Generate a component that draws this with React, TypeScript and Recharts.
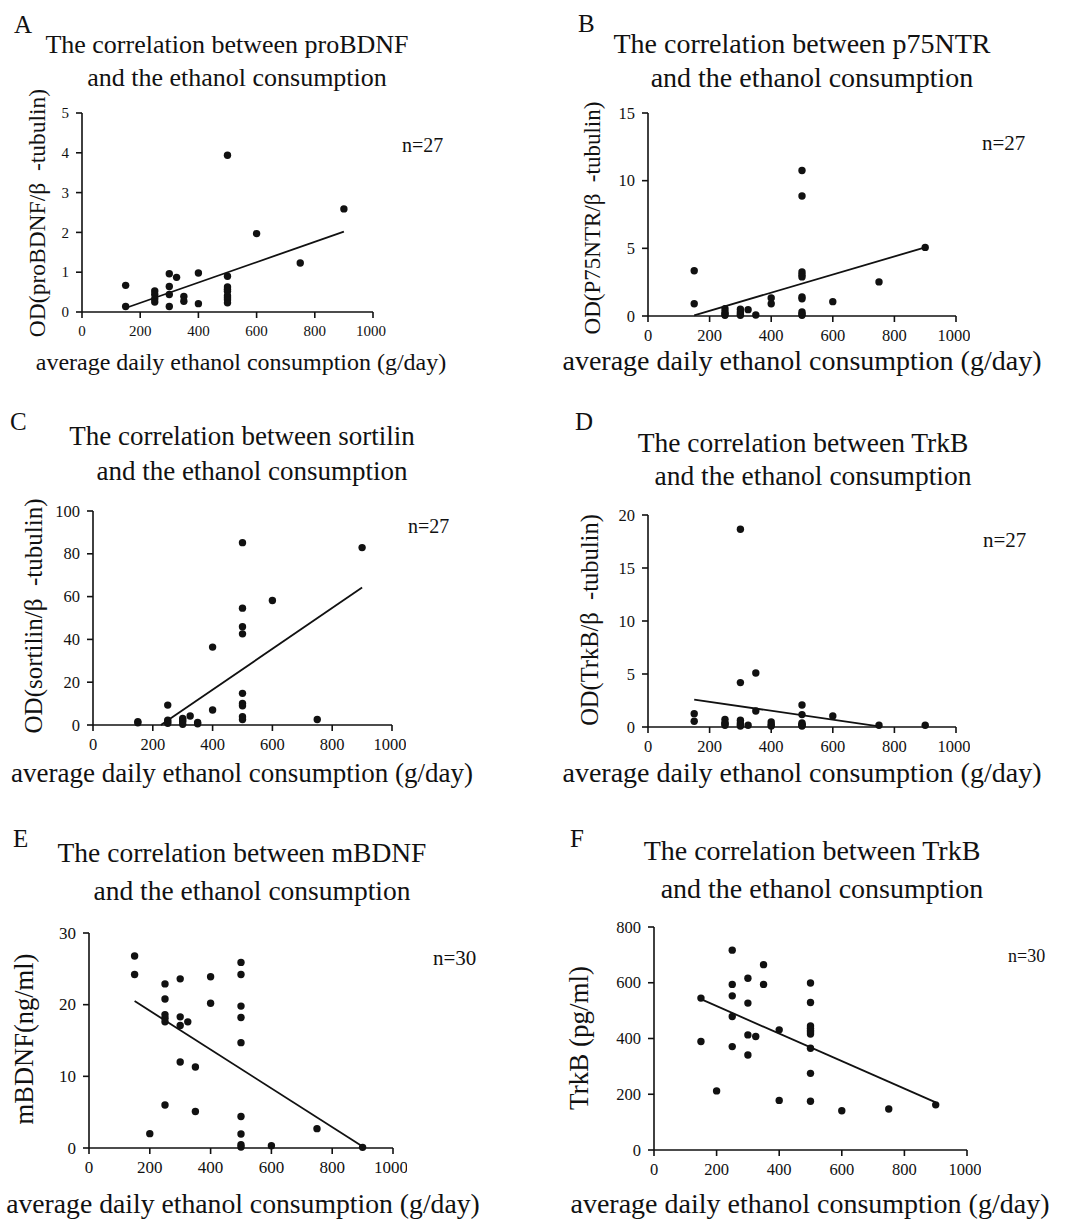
import { ScatterChart, Scatter, XAxis, YAxis } from 'recharts';

const FONT = '"Liberation Serif", "Times New Roman", serif';
const INK = '#111';

const xTicks = [0, 200, 400, 600, 800, 1000];
const xLabel = 'average daily ethanol consumption (g/day)';

// A: proBDNF
const proBDNF = [
  { x: 150, y: 0.67 }, { x: 150, y: 0.14 },
  { x: 250, y: 0.53 }, { x: 250, y: 0.44 }, { x: 250, y: 0.33 }, { x: 250, y: 0.25 },
  { x: 300, y: 0.96 }, { x: 300, y: 0.64 }, { x: 300, y: 0.44 }, { x: 300, y: 0.14 },
  { x: 325, y: 0.87 },
  { x: 350, y: 0.39 }, { x: 350, y: 0.27 },
  { x: 400, y: 0.98 }, { x: 400, y: 0.21 },
  { x: 500, y: 3.94 }, { x: 500, y: 0.9 }, { x: 500, y: 0.63 }, { x: 500, y: 0.57 },
  { x: 500, y: 0.52 }, { x: 500, y: 0.41 }, { x: 500, y: 0.36 }, { x: 500, y: 0.31 }, { x: 500, y: 0.23 },
  { x: 600, y: 1.97 }, { x: 750, y: 1.23 }, { x: 900, y: 2.59 },
];
const proBDNFFit = [{ x: 150, y: 0.1 }, { x: 900, y: 2.02 }];

// B: p75NTR
const p75NTR = [
  { x: 150, y: 3.34 }, { x: 150, y: 0.91 },
  { x: 250, y: 0.54 }, { x: 250, y: 0.3 }, { x: 250, y: 0.15 }, { x: 250, y: 0.05 },
  { x: 300, y: 0.5 }, { x: 300, y: 0.3 }, { x: 300, y: 0.15 }, { x: 300, y: 0.05 },
  { x: 325, y: 0.47 }, { x: 350, y: 0.07 },
  { x: 400, y: 1.33 }, { x: 400, y: 0.91 },
  { x: 500, y: 10.75 }, { x: 500, y: 8.87 }, { x: 500, y: 3.26 }, { x: 500, y: 3.05 }, { x: 500, y: 2.89 },
  { x: 500, y: 1.4 }, { x: 500, y: 1.28 }, { x: 500, y: 0.3 }, { x: 500, y: 0.15 }, { x: 500, y: 0.05 },
  { x: 600, y: 1.06 }, { x: 750, y: 2.52 }, { x: 900, y: 5.07 },
];
const p75NTRFit = [{ x: 150, y: 0.05 }, { x: 900, y: 5.07 }];

// C: sortilin
const sortilin = [
  { x: 150, y: 1.6 }, { x: 150, y: 1.0 },
  { x: 250, y: 9.3 }, { x: 250, y: 2.3 }, { x: 250, y: 1.5 }, { x: 250, y: 0.8 },
  { x: 300, y: 3.1 }, { x: 300, y: 2.3 }, { x: 300, y: 1.6 }, { x: 300, y: 0.3 },
  { x: 325, y: 4.2 }, { x: 350, y: 1.2 }, { x: 350, y: 0.6 },
  { x: 400, y: 36.4 }, { x: 400, y: 7.0 },
  { x: 500, y: 85.2 }, { x: 500, y: 54.6 }, { x: 500, y: 45.9 }, { x: 500, y: 42.6 }, { x: 500, y: 14.8 },
  { x: 500, y: 10.1 }, { x: 500, y: 9.0 }, { x: 500, y: 3.9 }, { x: 500, y: 2.6 },
  { x: 600, y: 58.2 }, { x: 750, y: 2.6 }, { x: 900, y: 82.9 },
];
const sortilinFit = [{ x: 227, y: 0 }, { x: 900, y: 64.2 }];

// D: TrkB (OD)
const trkbOD = [
  { x: 150, y: 1.26 }, { x: 150, y: 0.54 },
  { x: 250, y: 0.72 }, { x: 250, y: 0.41 }, { x: 250, y: 0.3 }, { x: 250, y: 0.16 },
  { x: 300, y: 18.65 }, { x: 300, y: 4.19 }, { x: 300, y: 0.63 }, { x: 300, y: 0.38 }, { x: 300, y: 0.22 }, { x: 300, y: 0.1 },
  { x: 325, y: 0.16 }, { x: 350, y: 5.1 }, { x: 350, y: 1.51 },
  { x: 400, y: 0.47 }, { x: 400, y: 0.22 }, { x: 400, y: 0.1 },
  { x: 500, y: 2.08 }, { x: 500, y: 1.17 }, { x: 500, y: 0.38 }, { x: 500, y: 0.25 }, { x: 500, y: 0.16 }, { x: 500, y: 0.1 },
  { x: 600, y: 1.04 }, { x: 750, y: 0.16 }, { x: 900, y: 0.16 },
];
const trkbODFit = [{ x: 150, y: 2.58 }, { x: 750, y: 0.06 }];

// E: mBDNF (ng/ml)
const mBDNF = [
  { x: 150, y: 26.8 }, { x: 150, y: 24.2 }, { x: 200, y: 2.0 },
  { x: 250, y: 22.9 }, { x: 250, y: 20.8 }, { x: 250, y: 18.6 }, { x: 250, y: 18.1 }, { x: 250, y: 17.6 }, { x: 250, y: 6.0 },
  { x: 300, y: 23.6 }, { x: 300, y: 18.3 }, { x: 300, y: 17.1 }, { x: 300, y: 12.0 },
  { x: 325, y: 17.6 }, { x: 350, y: 11.3 }, { x: 350, y: 5.1 },
  { x: 400, y: 23.9 }, { x: 400, y: 20.2 },
  { x: 500, y: 25.9 }, { x: 500, y: 24.2 }, { x: 500, y: 19.8 }, { x: 500, y: 18.2 }, { x: 500, y: 14.7 },
  { x: 500, y: 4.4 }, { x: 500, y: 1.95 }, { x: 500, y: 0.46 }, { x: 500, y: 0.14 },
  { x: 600, y: 0.32 }, { x: 750, y: 2.7 }, { x: 900, y: 0.09 },
];
const mBDNFFit = [{ x: 150, y: 20.5 }, { x: 900, y: 0.2 }];

// F: TrkB (pg/ml)
const trkbPg = [
  { x: 150, y: 545 }, { x: 150, y: 389 }, { x: 200, y: 212 },
  { x: 250, y: 717 }, { x: 250, y: 594 }, { x: 250, y: 553 }, { x: 250, y: 479 }, { x: 250, y: 371 },
  { x: 300, y: 616 }, { x: 300, y: 527 }, { x: 300, y: 413 }, { x: 300, y: 341 },
  { x: 325, y: 407 }, { x: 350, y: 665 }, { x: 350, y: 594 },
  { x: 400, y: 431 }, { x: 400, y: 178 },
  { x: 500, y: 599 }, { x: 500, y: 529 }, { x: 500, y: 445 }, { x: 500, y: 437 }, { x: 500, y: 429 },
  { x: 500, y: 423 }, { x: 500, y: 416 }, { x: 500, y: 365 }, { x: 500, y: 275 }, { x: 500, y: 175 },
  { x: 600, y: 141 }, { x: 750, y: 147 }, { x: 900, y: 162 },
];
const trkbPgFit = [{ x: 150, y: 541 }, { x: 900, y: 171 }];

type Pt = { x: number; y: number };

type Panel = {
  letter: string; letterX: number; letterY: number;
  title: string[]; titleX: number[]; titleY: number[]; titleSize: number;
  n: string; nX: number; nY: number; nSize: number;
  xLabelX: number; xLabelY: number; xLabelSize: number;
  yLabel: string; yLabelX: number; yLabelY: number; yLabelSize: number;
  left: number; top: number; w: number; h: number; tickSize: number;
  yMax: number; yTicks: number[];
  data: Pt[]; fit: Pt[];
};

const beta = '\u03b2\u00a0 -tubulin';

const panels: Panel[] = [
  {
    letter: 'A', letterX: 14, letterY: 33,
    title: ['The correlation between proBDNF', 'and the ethanol consumption'], titleX: [227, 237], titleY: [53, 86], titleSize: 26,
    n: 'n=27', nX: 402, nY: 152, nSize: 20,
    xLabelX: 241, xLabelY: 370, xLabelSize: 24,
    yLabel: `OD(proBDNF/${beta})`, yLabelX: 45, yLabelY: 213, yLabelSize: 23.5,
    left: 82, top: 113, w: 291, h: 199, tickSize: 15,
    yMax: 5, yTicks: [0, 1, 2, 3, 4, 5], data: proBDNF, fit: proBDNFFit,
  },
  {
    letter: 'B', letterX: 578, letterY: 32,
    title: ['The correlation between p75NTR', 'and the ethanol consumption'], titleX: [802, 812], titleY: [53, 87], titleSize: 28,
    n: 'n=27', nX: 982, nY: 150, nSize: 21,
    xLabelX: 802, xLabelY: 370, xLabelSize: 28,
    yLabel: `OD(P75NTR/${beta})`, yLabelX: 600, yLabelY: 218, yLabelSize: 23,
    left: 648, top: 113, w: 308, h: 203, tickSize: 16.5,
    yMax: 15, yTicks: [0, 5, 10, 15], data: p75NTR, fit: p75NTRFit,
  },
  {
    letter: 'C', letterX: 10, letterY: 430,
    title: ['The correlation between sortilin', 'and the ethanol consumption'], titleX: [242, 252], titleY: [445, 480], titleSize: 27,
    n: 'n=27', nX: 408, nY: 533, nSize: 20,
    xLabelX: 242, xLabelY: 782, xLabelSize: 27,
    yLabel: `OD(sortilin/${beta})`, yLabelX: 42, yLabelY: 616, yLabelSize: 25,
    left: 93, top: 511, w: 299, h: 214, tickSize: 16.5,
    yMax: 100, yTicks: [0, 20, 40, 60, 80, 100], data: sortilin, fit: sortilinFit,
  },
  {
    letter: 'D', letterX: 575, letterY: 430,
    title: ['The correlation between TrkB', 'and the ethanol consumption'], titleX: [803, 813], titleY: [452, 485], titleSize: 27.5,
    n: 'n=27', nX: 983, nY: 547, nSize: 21,
    xLabelX: 802, xLabelY: 782, xLabelSize: 28,
    yLabel: `OD(TrkB/${beta})`, yLabelX: 598, yLabelY: 620, yLabelSize: 24.5,
    left: 648, top: 515, w: 308, h: 212, tickSize: 16.5,
    yMax: 20, yTicks: [0, 5, 10, 15, 20], data: trkbOD, fit: trkbODFit,
  },
  {
    letter: 'E', letterX: 13, letterY: 847,
    title: ['The correlation between mBDNF', 'and the ethanol consumption'], titleX: [242, 252], titleY: [862, 900], titleSize: 27.5,
    n: 'n=30', nX: 433, nY: 965, nSize: 21,
    xLabelX: 243, xLabelY: 1213, xLabelSize: 27.7,
    yLabel: 'mBDNF(ng/ml)', yLabelX: 33, yLabelY: 1039, yLabelSize: 26.5,
    left: 89, top: 933, w: 304, h: 215, tickSize: 17,
    yMax: 30, yTicks: [0, 10, 20, 30], data: mBDNF, fit: mBDNFFit,
  },
  {
    letter: 'F', letterX: 570, letterY: 847,
    title: ['The correlation between TrkB', 'and the ethanol consumption'], titleX: [812, 822], titleY: [860, 898], titleSize: 28,
    n: 'n=30', nX: 1008, nY: 962, nSize: 18,
    xLabelX: 810, xLabelY: 1213, xLabelSize: 28,
    yLabel: 'TrkB (pg/ml)', yLabelX: 588, yLabelY: 1038, yLabelSize: 27,
    left: 654, top: 927, w: 313, h: 223, tickSize: 16.5,
    yMax: 800, yTicks: [0, 200, 400, 600, 800], data: trkbPg, fit: trkbPgFit,
  },
];

const YW = 50;
const MT = 10;
const XH = 40;
const MR = 14;

const Dot = (props: any) => <circle cx={props.cx} cy={props.cy} r={3.7} fill={INK} />;
const NoDot = () => <g />;

// serif tick text
const makeTick = (size: number, axis: 'x' | 'y') => (props: any) => {
  const { x, y, payload } = props;
  const common = { fontSize: size, fill: INK, style: { fontFamily: FONT } };
  if (axis === 'x') {
    return <text x={x} y={y} dy={size * 0.72} textAnchor="middle" {...common}>{payload.value}</text>;
  }
  return <text x={x} y={y} dy={size * 0.34} textAnchor="end" {...common}>{payload.value}</text>;
};

function PanelChart({ p }: { p: Panel }) {
  const line = { stroke: INK, strokeWidth: 1.6 };
  return (
    <div style={{ position: 'absolute', left: p.left - YW, top: p.top - MT, fontFamily: FONT }}>
      <ScatterChart
        width={YW + p.w + MR} height={MT + p.h + XH}
        margin={{ top: MT, right: MR, bottom: 0, left: 0 }}
        style={{ fontFamily: FONT }}
      >
        <XAxis
          type="number" dataKey="x" domain={[0, 1000]} ticks={xTicks} height={XH}
          axisLine={line} tickLine={line} tickSize={6} tickMargin={7} tick={makeTick(p.tickSize, 'x')}
        />
        <YAxis
          type="number" dataKey="y" domain={[0, p.yMax]} ticks={p.yTicks} width={YW}
          axisLine={line} tickLine={line} tickSize={6} tickMargin={7} tick={makeTick(p.tickSize, 'y')}
        />
        <Scatter data={p.data} shape={Dot} isAnimationActive={false} />
        <Scatter data={p.fit} shape={NoDot} line={{ stroke: INK, strokeWidth: 1.8 }} isAnimationActive={false} />
      </ScatterChart>
    </div>
  );
}

export default function App() {
  return (
    <div style={{ position: 'absolute', left: 0, top: 0, width: 1070, height: 1221, background: '#fff', overflow: 'hidden' }}>
      {panels.map((p) => <PanelChart key={p.letter} p={p} />)}
      <svg width={1070} height={1221} style={{ position: 'absolute', left: 0, top: 0, pointerEvents: 'none' }} fontFamily={FONT} fill={INK}>
        {panels.map((p) => (
          <g key={p.letter}>
            <text x={p.letterX} y={p.letterY} fontSize={25}>{p.letter}</text>
            {p.title.map((t, i) => (
              <text key={i} x={p.titleX[i]} y={p.titleY[i]} fontSize={p.titleSize} textAnchor="middle">{t}</text>
            ))}
            <text x={p.nX} y={p.nY} fontSize={p.nSize}>{p.n}</text>
            <text x={p.xLabelX} y={p.xLabelY} fontSize={p.xLabelSize} textAnchor="middle">{xLabel}</text>
            <text
              x={p.yLabelX} y={p.yLabelY} fontSize={p.yLabelSize} textAnchor="middle"
              transform={`rotate(-90 ${p.yLabelX} ${p.yLabelY})`}
            >{p.yLabel}</text>
          </g>
        ))}
      </svg>
    </div>
  );
}
